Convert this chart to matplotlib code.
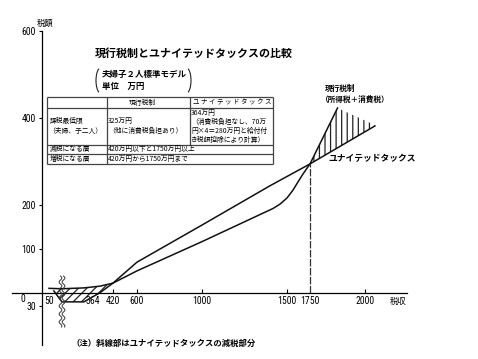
import numpy as np
import matplotlib
matplotlib.use("Agg")
import matplotlib.pyplot as plt
from matplotlib import font_manager
from matplotlib.patches import Arc

JP = ['Noto Sans CJK JP', 'DejaVu Sans']
names = {f.name for f in font_manager.fontManager.ttflist}
NUM, NUM_SIZE = 'Liberation Sans', 6.2
for cand in ['Liberation Sans Narrow', 'Roboto Condensed', 'Open Sans Condensed']:
    if cand in names:
        NUM, NUM_SIZE = cand, 7.0
        break

# 税収 (万円) と税額 (万円) -- 読み取り値
ut_income = [80, 130, 265, 364, 420, 600, 1000, 1400, 1750, 2045]
ut_tax = [4, -21, -21, 0, 22, 70, 155, 245, 295, 382]
cur_income = [50, 130, 265, 364, 420, 600, 1000, 1418, 1459, 1500, 1565, 1620, 1674, 1750, 1875]
cur_tax = [10, 9, 11, 15, 22, 50, 117, 193, 203, 217, 235, 254, 272, 295, 423]
# 1750万円以上の斜線部の上端
hatch_top_income = [1750, 1875, 2045]
hatch_top_tax = [295, 423, 384]
upper_cross = 1750

xtick_major = [420, 600, 1000, 1500, 2000]
xtick_minor = [50, 364, 1750]
ytick_vals = [-30, 100, 200, 400, 600]
ytick_labels = ['30', '100', '200', '400', '600']

# 図は概念図なので横軸は区間ごとに縮尺が違う
scale_income = [-300, 0, 50, 364, 420, 600, 1000, 1500, 1750, 2000, 2514]
scale_px = [0, 42, 49, 100, 113, 137, 202, 287, 310, 365, 478]


def fwd(x):
    return np.interp(x, scale_income, scale_px)


def inv(p):
    return np.interp(p, scale_px, scale_income)


plt.rcParams['hatch.linewidth'] = 0.9
fig = plt.figure(figsize=(4.78, 3.59), dpi=100)
ax = fig.add_axes([0, 0, 1, 1])
ax.set_xscale('function', functions=(fwd, inv))
ax.set_xlim(-300, 2514)
ax.set_ylim(-(359 - 292.7) / 0.4365, 292.7 / 0.4365)
ax.patch.set_visible(False)

lw = 1.1
ax.plot(ut_income, ut_tax, color='#111111', lw=lw)
ax.plot(cur_income, cur_tax, color='#111111', lw=lw)

# 斜線部 (減税部分)
hx = np.linspace(ut_income[0], 420, 200)
ax.fill_between(hx, np.interp(hx, ut_income, ut_tax), np.interp(hx, cur_income, cur_tax),
                facecolor='none', edgecolor='#222222', hatch='////', linewidth=0)
hx2 = np.linspace(upper_cross, hatch_top_income[-1], 200)
ax.fill_between(hx2, np.interp(hx2, ut_income, ut_tax), np.interp(hx2, hatch_top_income, hatch_top_tax),
                facecolor='none', edgecolor='#222222', hatch='|||', linewidth=0)

ax.vlines(upper_cross, 0, np.interp(upper_cross, ut_income, ut_tax), color='#333333',
          lw=0.9, linestyles=(0, (6, 1.2)))

for s in ['top', 'right']:
    ax.spines[s].set_visible(False)
ax.spines['left'].set_position(('data', 0))
ax.spines['bottom'].set_position(('data', 0))
ax.spines['left'].set_bounds(-120, 600)
ax.spines['bottom'].set_bounds(-214, 2191)
ax.spines['left'].set_linewidth(0.9)
ax.spines['bottom'].set_linewidth(0.9)

ax.set_xticks(xtick_major, [str(v) for v in xtick_major])
ax.set_xticks(xtick_minor, [str(v) for v in xtick_minor], minor=True)
ax.tick_params(axis='x', which='major', direction='in', length=3, width=0.8, pad=2.5)
ax.tick_params(axis='x', which='minor', direction='in', length=0, pad=2.5)
ax.set_yticks(ytick_vals, ytick_labels)
ax.tick_params(axis='y', direction='out', length=2, width=0.8, pad=2.5)
for lab in ax.get_xticklabels() + ax.get_xticklabels(minor=True) + ax.get_yticklabels():
    lab.set_fontfamily(NUM)
    lab.set_fontsize(NUM_SIZE)
for lab in ax.get_xticklabels(minor=True):
    if lab.get_text() == '364':
        lab.set_horizontalalignment('right')

# 文字・表はピクセル座標で配置
deco = fig.add_axes([0, 0, 1, 1])
deco.set_xlim(0, 478)
deco.set_ylim(359, 0)
deco.axis('off')


def put(x, y, s, size, weight='normal', ha='left', family=JP):
    deco.text(x, y, s, fontsize=size, fontweight=weight, ha=ha, va='center', family=family)


put(23, 299, '0', NUM_SIZE, ha='center', family=NUM)
put(398, 301, '税収', 6, ha='center')
put(37, 23, '税額', 6)

put(95, 53, '現行税制とユナイテッドタックスの比較', 7.9, weight='bold')
put(102, 75, '夫婦子２人標準モデル', 6.1, weight='bold')
put(102, 86, '単位　万円', 6.1, weight='bold')
deco.add_patch(Arc((101, 80.5), 10, 26, theta1=100, theta2=260, lw=0.8, color='#222222'))
deco.add_patch(Arc((186, 80.5), 10, 26, theta1=-80, theta2=80, lw=0.8, color='#222222'))

# 表
tc = '#444444'
x0, x1, x2, x3 = 47.5, 107, 190, 273
rows = [97, 107.5, 144.5, 154, 163.5]
deco.hlines(rows, x0, x3, color=tc, lw=0.9)
deco.vlines([x0, x1, x3], rows[0], rows[-1], color=tc, lw=0.9)
deco.vlines(x2, rows[0], rows[2], color=tc, lw=0.9)
ts = 4.9
put(142, 102.5, '現行税制', ts, ha='center')
put(232, 102.5, 'ユ ナ イ テ ッ ド タ ッ ク ス', 4.7, ha='center')
put(50, 121, '課税最低限', ts)
put(48, 131, '（夫婦、子二人）', ts)
put(108, 121, '325万円', ts)
put(108, 131, '（他に消費税負担あり）', ts)
put(191, 112.5, '364万円', ts)
put(191, 122, '（消費税負担なし、70万', ts)
put(191, 131, '円×4＝280万円と給付付', ts)
put(191, 140, 'き税額控除により計算）', ts)
put(50, 149, '減税になる層', ts)
put(108, 149, '420万円以下と1750万円以上', ts)
put(50, 159, '増税になる層', ts)
put(108, 159, '420万円から1750万円まで', ts)

put(325, 88, '現行税制', 5.5, weight='bold')
put(321, 99, '（所得税＋消費税）', 5.5, weight='bold')
put(328, 159, 'ユナイテッドタックス', 6.3, weight='bold')
put(72, 343, '（注）斜線部はユナイテッドタックスの減税部分', 6, weight='bold')

# 省略記号 (波線)
wy = np.linspace(276, 327, 120)
for wx in (60.5, 63.5):
    deco.plot(wx + 1.4 * np.sin((wy - 276) / 8 * 2 * np.pi), wy, color='#333333', lw=0.7)

fig.savefig('out.png', dpi=100)
